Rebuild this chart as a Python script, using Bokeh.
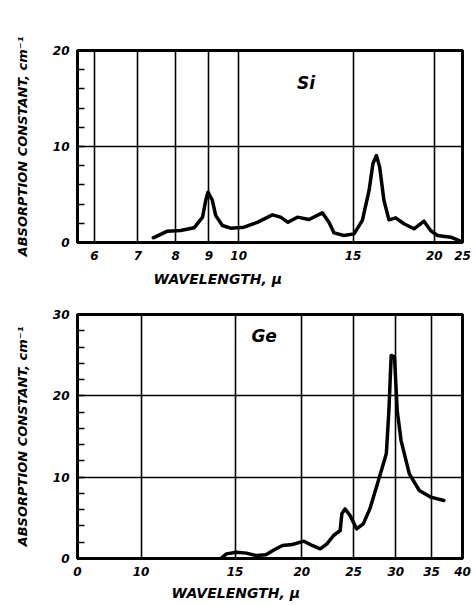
from bokeh.plotting import figure
from bokeh.models import (FixedTicker, SingleIntervalTicker, Range1d, Label, Title)
from bokeh.layouts import column
from bokeh.embed import file_html
from bokeh.resources import INLINE

# ---------------- data ----------------
# Si panel (wavelength in micron, absorption constant in cm^-1)
si_wavelength = [7.39, 7.77, 8.14, 8.54, 8.80, 8.90, 8.97, 9.11, 9.22, 9.44, 9.72,
                 10.19, 10.68, 11.27, 11.60, 11.91, 12.31, 12.83, 13.45, 13.77,
                 14.02, 14.52, 15.05, 15.5, 15.87, 16.09, 16.29, 16.48, 16.73,
                 17.03, 17.44, 17.96, 18.61, 19.28, 19.74, 20.22, 21.2, 21.95]
si_absorption = [0.49, 1.18, 1.25, 1.53, 2.64, 4.4, 5.24, 4.4, 2.8, 1.77, 1.49,
                 1.6, 2.1, 2.88, 2.64, 2.1, 2.64, 2.4, 3.09, 2.1,
                 1.0, 0.73, 0.9, 2.3, 5.4, 8.2, 9.06, 7.85, 4.4,
                 2.36, 2.57, 1.95, 1.43, 2.22, 1.25, 0.73, 0.55, 0.14]
si_tick_values = [6, 7, 8, 9, 10, 15, 20, 22.1]
si_tick_labels = ["6", "7", "8", "9", "10", "15", "20", "25"]

# Ge panel
ge_wavelength = [14.15, 14.45, 15.08, 15.74, 16.42, 17.13, 17.76, 18.40, 19.2, 20.18,
                 20.91, 21.66, 22.29, 22.94, 23.6, 23.77, 24.1, 24.62, 25.33, 26.07,
                 26.82, 27.59, 28.18, 28.8, 29.12, 29.41, 29.83, 30.18, 30.69, 31.8,
                 33.2, 34.9, 36.9]
ge_absorption = [0.09, 0.57, 0.78, 0.66, 0.37, 0.45, 1.07, 1.6, 1.72, 2.13,
                 1.6, 1.19, 1.8, 2.83, 3.44, 5.5, 6.1, 5.3, 3.65, 4.26,
                 6.1, 8.77, 10.8, 12.9, 18.2, 24.97, 24.8, 18.2, 14.5, 10.4,
                 8.36, 7.54, 7.13]
ge_tick_values = [7.6, 10, 15, 20, 25, 30, 35, 40]
ge_tick_labels = ["0", "10", "15", "20", "25", "30", "35", "40"]

FONT = "DejaVu Sans"
YLABEL = "ABSORPTION CONSTANT, cm\u207b\u00b9"
XLABEL = "WAVELENGTH, \u03bc"


def style(p, xticks, xlabels):
    p.xaxis.ticker = FixedTicker(ticks=xticks)
    p.xaxis.major_label_overrides = {t: l for t, l in zip(xticks, xlabels)}
    p.yaxis.ticker = SingleIntervalTicker(interval=10, num_minor_ticks=5)
    for ax in (p.xaxis[0], p.yaxis[0]):
        ax.axis_line_width = 3
        ax.axis_line_color = "black"
        ax.major_tick_out = 0
        ax.major_tick_in = 0
        ax.major_label_text_font = FONT
        ax.major_label_text_font_style = "bold italic"
        ax.major_label_text_font_size = "12px"
        ax.major_label_text_color = "black"
        ax.major_label_standoff = 8
    p.xaxis.minor_tick_line_color = None
    p.yaxis.minor_tick_in = 7
    p.yaxis.minor_tick_out = 0
    p.yaxis.minor_tick_line_width = 1.5
    p.yaxis.minor_tick_line_color = "black"
    p.yaxis.axis_label = YLABEL
    p.yaxis.axis_label_text_font = FONT
    p.yaxis.axis_label_text_font_style = "bold italic"
    p.yaxis.axis_label_text_font_size = "13px"
    p.yaxis.axis_label_text_color = "black"
    p.yaxis.axis_label_standoff = 20
    p.xgrid.ticker = FixedTicker(ticks=xticks)
    p.ygrid.ticker = SingleIntervalTicker(interval=10)
    for g in (p.xgrid[0], p.ygrid[0]):
        g.grid_line_color = "black"
        g.grid_line_width = 1.6
        g.grid_line_alpha = 1
    p.outline_line_color = "black"
    p.outline_line_width = 3
    p.outline_line_alpha = 1
    p.background_fill_color = "white"
    p.border_fill_color = "white"


def xlabel_title(offset, standoff):
    return Title(text=XLABEL, align="left", offset=offset, standoff=standoff,
                 text_font=FONT, text_font_style="bold italic",
                 text_font_size="14px", text_color="black")


def panel_label(x, y, text):
    return Label(x=x, y=y, text=text, text_font=FONT, text_color="black",
                 text_font_style="bold italic", text_font_size="17px",
                 text_align="center", text_baseline="middle")


# ---------------- top: Si ----------------
p1 = figure(width=474, height=302, x_axis_type="log",
            x_range=Range1d(5.65, 22.1), y_range=Range1d(0, 20),
            output_backend="svg", toolbar_location=None,
            min_border_left=77, min_border_right=12,
            min_border_top=50, min_border_bottom=60)
style(p1, si_tick_values, si_tick_labels)
p1.line(si_wavelength, si_absorption, line_color="black", line_width=3.5,
        line_join="round", line_cap="round")
p1.add_layout(panel_label(12.7, 16.6, "Si"))
p1.add_layout(xlabel_title(76, 12), "below")

# ---------------- bottom: Ge ----------------
p2 = figure(width=474, height=302, x_axis_type="log",
            x_range=Range1d(7.6, 40), y_range=Range1d(0, 30),
            output_backend="svg", toolbar_location=None,
            min_border_left=73, min_border_right=9,
            min_border_top=12, min_border_bottom=46)
style(p2, ge_tick_values, ge_tick_labels)
p2.line(ge_wavelength, ge_absorption, line_color="black", line_width=3.5,
        line_join="round", line_cap="round")
p2.add_layout(panel_label(17.0, 27.4, "Ge"))
p2.add_layout(xlabel_title(94, 8), "below")

layout = column(p1, p2, spacing=0)
open("out.html", "w").write(file_html(layout, INLINE))
